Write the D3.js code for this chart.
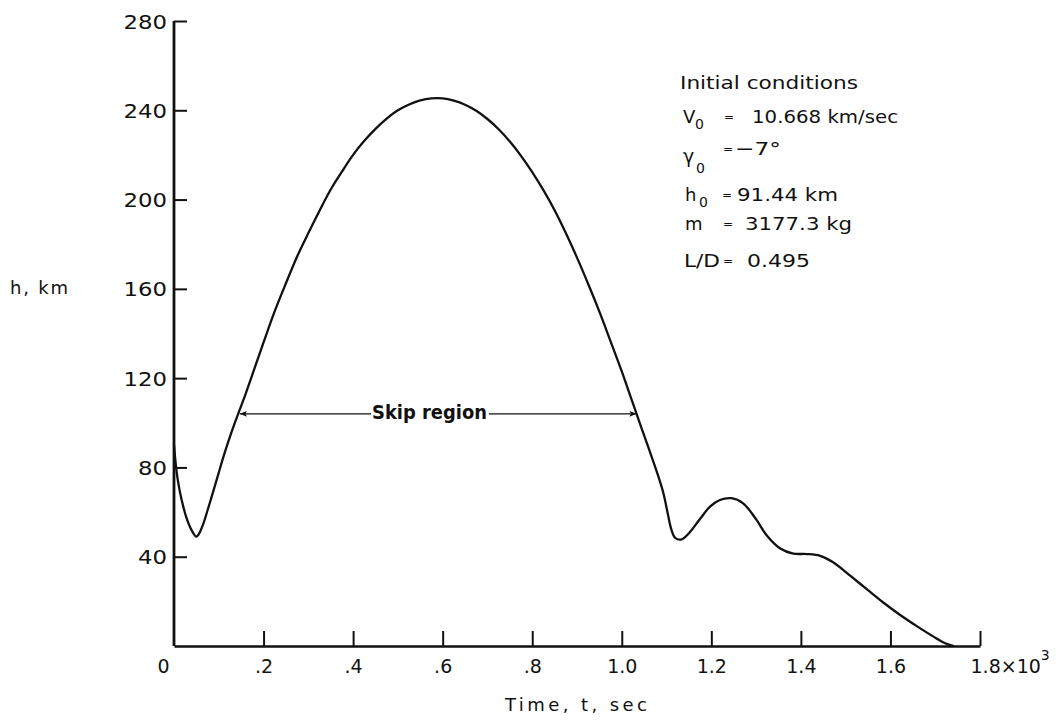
<!DOCTYPE html>
<html>
<head>
<meta charset="utf-8">
<script src="https://cdn.jsdelivr.net/npm/d3@7"></script>
<style>
  html, body { margin: 0; padding: 0; background: #fff; }
  svg { display: block; }
  text { font-family: "DejaVu Sans", "Liberation Sans", sans-serif; fill: #111; }
</style>
</head>
<body>
<svg id="chart" width="1056" height="720"></svg>
<script>
// ---- data (time in seconds, altitude in km) ----
const timeS = [0, 5, 10, 17, 27, 39, 50, 56, 65, 76, 88, 99, 110, 122, 135, 147, 160, 180, 200, 225, 250, 275, 300, 325, 350, 375, 400, 425, 450, 475, 500, 525, 550, 575, 600, 625, 650, 675, 700, 725, 750, 775, 800, 825, 850, 875, 900, 925, 950, 975, 1000, 1020, 1040, 1060, 1080, 1093, 1103, 1111, 1120, 1134, 1150, 1175, 1197, 1219, 1245, 1271, 1301, 1323, 1353, 1383, 1413, 1443, 1472, 1510, 1547, 1584, 1621, 1658, 1696, 1725, 1742];
const altitudeKm = [90, 79.5, 72.5, 65.5, 58, 52, 49, 50.3, 54.5, 61.5, 69.5, 77, 84.5, 92, 99.5, 106, 113, 124.5, 136, 150, 162.5, 174.5, 185, 195, 204.5, 212.5, 220, 226.3, 231.7, 236.3, 240, 242.6, 244.4, 245.3, 245.3, 244.3, 242.5, 239.8, 236.1, 231.5, 226, 219.6, 212.3, 204.2, 195.2, 185, 174, 162.2, 149.8, 136.5, 123, 111.5, 100, 88.6, 77, 68.4, 59, 52, 48.3, 47.8, 50.5, 57, 62.4, 65.4, 66.2, 63.9, 56.5, 49.7, 43.8, 41.4, 41.2, 40.4, 37.5, 31.5, 25.5, 19.5, 14, 9, 4.2, 1, 0];

const xTickValues = [0, 200, 400, 600, 800, 1000, 1200, 1400, 1600, 1800];
const xTickLabels = ["0", ".2", ".4", ".6", ".8", "1.0", "1.2", "1.4", "1.6", "1.8"];
const yTickValues = [40, 80, 120, 160, 200, 240, 280];
const yTickLabels = ["40", "80", "120", "160", "200", "240", "280"];

const skipStartT = 147, skipEndT = 1033, skipH = 104;

// ---- scales ----
const svg = d3.select("#chart");
const x = d3.scaleLinear().domain([0, 1800]).range([174, 980]);
const y = d3.scaleLinear().domain([0, 280]).range([646, 21]);

function widen(sel, f) {
  sel.each(function () {
    const w = this.getComputedTextLength();
    d3.select(this).attr("textLength", w * f).attr("lengthAdjust", "spacingAndGlyphs");
  });
}

// ---- axes ----
const xAxis = d3.axisBottom(x).tickValues(xTickValues)
  .tickSize(-15).tickSizeOuter(0).tickPadding(14)
  .tickFormat((d, i) => xTickLabels[i]);
const gx = svg.append("g").attr("transform", `translate(0,${y(0)})`).call(xAxis);
gx.select(".domain").attr("stroke", "#111").attr("stroke-width", 2.6);
gx.selectAll(".tick line").attr("stroke", "#111").attr("stroke-width", 2)
  .filter(d => d === 0).remove();
gx.selectAll(".tick text").attr("font-size", 19).attr("fill", "#111")
  .attr("font-family", "DejaVu Sans, sans-serif")
  .attr("dx", d => d === 0 ? -11 : 0);
const lastTick = gx.selectAll(".tick").filter(d => d === 1800);
lastTick.select("text").attr("text-anchor", "start").attr("dx", -10)
  .text("1.8×10").append("tspan").attr("dy", -13).attr("font-size", 14).text("3");

const yAxis = d3.axisLeft(y).tickValues(yTickValues)
  .tickSize(-13).tickSizeOuter(0).tickPadding(7)
  .tickFormat((d, i) => yTickLabels[i]);
const gy = svg.append("g").attr("transform", `translate(${x(0)},0)`).call(yAxis);
gy.select(".domain").attr("stroke", "#111").attr("stroke-width", 2.8)
  .attr("d", `M0,${y(280)}V${y(0)}`);
gy.selectAll(".tick line").attr("stroke", "#111").attr("stroke-width", 2);
const yText = gy.selectAll(".tick text").attr("font-size", 19.5).attr("fill", "#111")
  .attr("font-family", "DejaVu Sans, sans-serif").attr("dy", "0.36em");
widen(yText, 1.17);

// axis titles
svg.append("text").attr("x", 10).attr("y", 294).attr("font-size", 18)
  .attr("textLength", 58).attr("lengthAdjust", "spacing").text("h, km");
svg.append("text").attr("x", 505).attr("y", 711).attr("font-size", 18)
  .attr("textLength", 142).attr("lengthAdjust", "spacing").text("Time, t, sec");

// ---- curve ----
const pts = timeS.map((t, i) => [t, altitudeKm[i]]);
const line = d3.line().x(d => x(d[0])).y(d => y(d[1])).curve(d3.curveCatmullRom.alpha(0.5));
svg.append("path").datum(pts).attr("d", line)
  .attr("fill", "none").attr("stroke", "#111").attr("stroke-width", 2.3)
  .attr("stroke-linejoin", "round");

// ---- skip region annotation ----
const defs = svg.append("defs");
defs.append("marker").attr("id", "arr").attr("viewBox", "0 0 10 10")
  .attr("refX", 10).attr("refY", 5).attr("markerWidth", 11).attr("markerHeight", 7)
  .attr("orient", "auto-start-reverse").attr("markerUnits", "userSpaceOnUse")
  .append("path").attr("d", "M0,1L10,5L0,9L2,5Z").attr("fill", "#111");
svg.append("text").attr("x", 372).attr("y", 419)
  .attr("font-size", 19).attr("font-weight", "bold")
  .attr("textLength", 115).attr("lengthAdjust", "spacingAndGlyphs")
  .text("Skip region");
svg.append("line").attr("x1", 371).attr("x2", x(skipStartT))
  .attr("y1", y(skipH)).attr("y2", y(skipH))
  .attr("stroke", "#111").attr("stroke-width", 1.2).attr("marker-end", "url(#arr)");
svg.append("line").attr("x1", 489).attr("x2", x(skipEndT))
  .attr("y1", y(skipH)).attr("y2", y(skipH))
  .attr("stroke", "#111").attr("stroke-width", 1.2).attr("marker-end", "url(#arr)");

// ---- initial conditions block ----
function txt(xp, yp, s, size, len) {
  const t = svg.append("text").attr("x", xp).attr("y", yp).attr("font-size", size).text(s);
  if (len) t.attr("textLength", len).attr("lengthAdjust", "spacingAndGlyphs");
  return t;
}
txt(680, 89, "Initial conditions", 18, 178);
// V0
txt(683, 123, "V", 18); txt(695, 129, "0", 14);
txt(724, 121, "=", 12); txt(752, 123, "10.668 km/sec", 18, 146);
// gamma0
txt(683, 163, "γ", 19); txt(696, 173, "0", 14);
txt(723, 153, "=", 12); txt(735, 155, "−7°", 18, 46);
// h0
txt(685, 201, "h", 18); txt(699, 207, "0", 14);
txt(722, 199, "=", 12); txt(737, 201, "91.44 km", 18, 101);
// m
txt(685, 230, "m", 18);
txt(723, 228, "=", 12); txt(745, 230, "3177.3 kg", 18, 107);
// L/D
txt(684, 267, "L/D", 18, 36);
txt(723, 265, "=", 12); txt(747, 267, "0.495", 18, 63);
</script>
</body>
</html>
